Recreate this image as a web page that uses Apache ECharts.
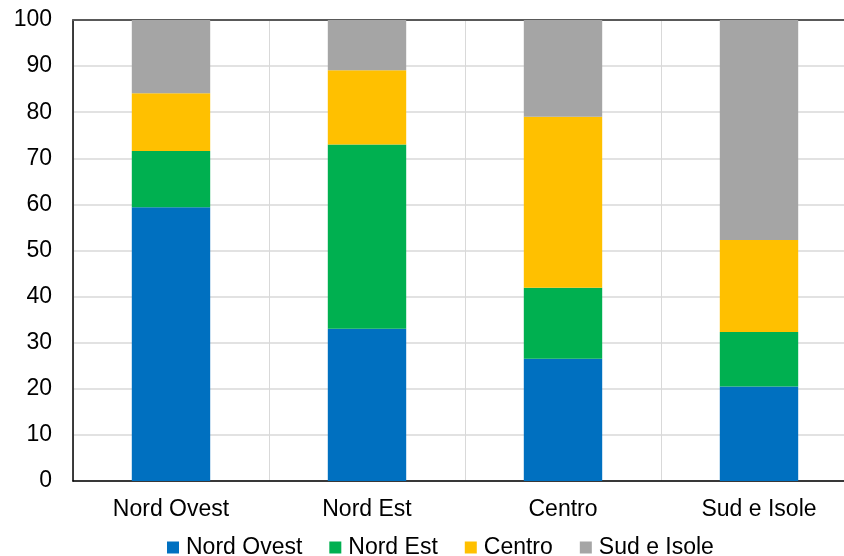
<!DOCTYPE html>
<html>
<head>
<meta charset="utf-8">
<script src="https://cdn.jsdelivr.net/npm/echarts@6/dist/echarts.min.js"></script>
<style>
  html, body { margin: 0; padding: 0; background: #fff; overflow: hidden; }
  /* the plot area runs a little past the right edge of the window */
  #chart { width: 858px; height: 556px; }
</style>
</head>
<body>
<div id="chart"></div>
<script>
// Regions shown along the x axis
const categories = ['Nord Ovest', 'Nord Est', 'Centro', 'Sud e Isole'];

// Percentage shares, one array per stacked segment
const nordOvest = [59.4, 33.0, 26.5, 20.5];
const nordEst   = [12.2, 40.0, 15.4, 11.8];
const centro    = [12.5, 16.1, 37.1, 20.0];
const sudIsole  = [15.9, 10.9, 21.0, 47.7];

const seriesNames = ['Nord Ovest', 'Nord Est', 'Centro', 'Sud e Isole'];
const seriesData = [nordOvest, nordEst, centro, sudIsole];
const colors = ['#0070C0', '#00B050', '#FFC000', '#A5A5A5'];

const FONT = '"Liberation Sans", Arial, sans-serif';

const chart = echarts.init(document.getElementById('chart'), null, { renderer: 'canvas' });

chart.setOption({
  animation: false,
  textStyle: { fontFamily: FONT },
  grid: { left: 73, right: 1, top: 20, bottom: 75, containLabel: false },
  legend: {
    left: 162,
    top: 531,
    itemWidth: 12,
    itemHeight: 12,
    itemGap: 27,
    icon: 'rect',
    data: seriesNames,
    textStyle: { fontSize: 23, color: '#000', fontFamily: FONT, padding: [0, 0, 0, 2] }
  },
  xAxis: [
    {
      type: 'category',
      data: categories,
      position: 'bottom',
      axisLine: { show: true, lineStyle: { color: '#000', width: 1.5 } },
      axisTick: { show: false },
      axisLabel: { fontSize: 23, color: '#000', margin: 17, fontFamily: FONT },
      splitLine: { show: true, lineStyle: { color: '#D9D9D9', width: 1 } }
    },
    {
      type: 'category',
      data: categories,
      position: 'top',
      axisLine: { show: true, lineStyle: { color: '#595959', width: 2 } },
      axisTick: { show: false },
      axisLabel: { show: false },
      splitLine: { show: false }
    }
  ],
  yAxis: {
    type: 'value',
    min: 0,
    max: 100,
    interval: 10,
    axisLine: { show: true, lineStyle: { color: '#000', width: 1.5 } },
    axisTick: { show: false },
    axisLabel: { fontSize: 23, color: '#000', margin: 21, fontFamily: FONT },
    splitLine: { show: true, lineStyle: { color: '#D9D9D9', width: 1.5 } }
  },
  series: seriesNames.map((name, i) => ({
    name: name,
    type: 'bar',
    stack: 'total',
    data: seriesData[i],
    barWidth: '40%',
    itemStyle: { color: colors[i] },
    emphasis: { disabled: true }
  }))
});
</script>
</body>
</html>
